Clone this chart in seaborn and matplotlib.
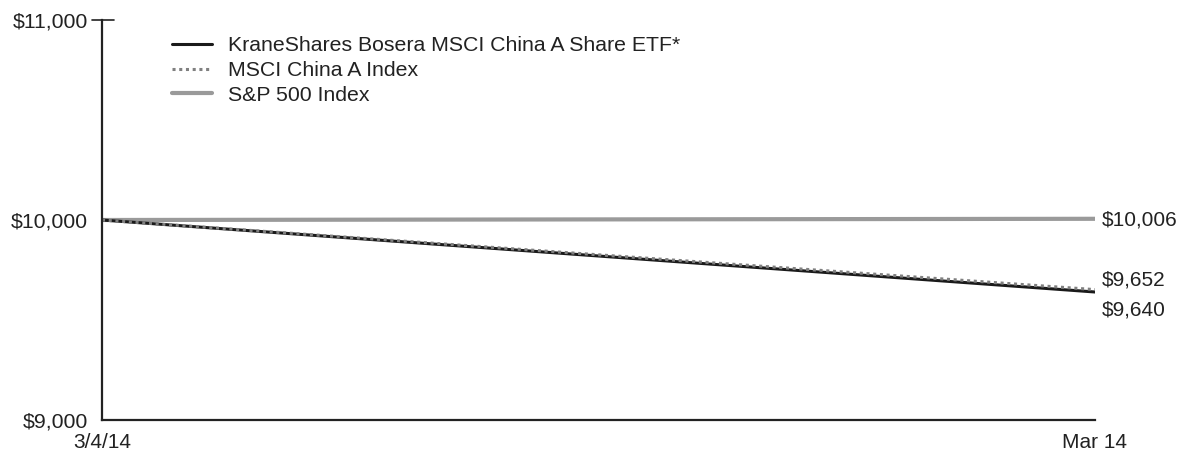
import matplotlib
matplotlib.use("Agg")
import matplotlib.pyplot as plt
from matplotlib.lines import Line2D
import seaborn as sns
import pandas as pd

sns.set_theme(style="white")
plt.rcParams['font.family'] = ['Liberation Sans', 'DejaVu Sans']

x_pos = [0, 1]
x_labels = ["3/4/14", "Mar 14"]
etf = [10000, 9640]
msci = [10000, 9652]
sp500 = [10000, 10006]
series_names = ["KraneShares Bosera MSCI China A Share ETF*", "MSCI China A Index", "S&P 500 Index"]
end_labels = ["$9,640", "$9,652", "$10,006"]
y_ticks = [9000, 10000, 11000]
y_tick_labels = ["$9,000", "$10,000", "$11,000"]

df = pd.DataFrame({
    "x": x_pos * 3,
    "value": sp500 + etf + msci,
    "series": [series_names[2]] * 2 + [series_names[0]] * 2 + [series_names[1]] * 2,
})

TXT = "#222222"
fig = plt.figure(figsize=(11.78, 4.55), dpi=100)
ax = fig.add_axes([102 / 1178, 1 - 420 / 455, (1095 - 102) / 1178, 400 / 455])

styles = {
    series_names[2]: dict(color="#9a9a9a", lw=3.0, ls="-"),
    series_names[1]: dict(color="#808080", lw=2.2, ls=(0, (1, 1.2))),
    series_names[0]: dict(color="#1a1a1a", lw=2.2, ls="-"),
}
for name in [series_names[2], series_names[0], series_names[1]]:
    sub = df[df["series"] == name]
    st = styles[name]
    sns.lineplot(data=sub, x="x", y="value", ax=ax, color=st["color"], linewidth=st["lw"],
                 linestyle=st["ls"], legend=False)

ax.set_xlim(0, 1)
ax.set_ylim(9000, 11000)
ax.set_xlabel("")
ax.set_ylabel("")
ax.set_xticks(x_pos)
ax.set_xticklabels(x_labels, fontsize=15, color=TXT)
ax.set_yticks(y_ticks)
ax.set_yticklabels(y_tick_labels, fontsize=15.3, color=TXT)

for s in ["top", "right"]:
    ax.spines[s].set_visible(False)
for s in ["left", "bottom"]:
    ax.spines[s].set_color(TXT)
    ax.spines[s].set_linewidth(1.6)

ax.tick_params(axis="y", direction="out", length=7, width=1.2, color=TXT, pad=3)
ax.tick_params(axis="x", direction="in", length=6, width=1.2, color=TXT, pad=9)
ax.xaxis.get_major_ticks()[0].tick1line.set_visible(False)
ax.yaxis.get_major_ticks()[0].tick1line.set_visible(False)
# top tick crosses the axis
ax.plot([-0.0101, 0.0121], [11000, 11000], color=TXT, lw=1.2, clip_on=False)

# end labels
ax.annotate(end_labels[2], (1, sp500[1]), xytext=(5, -1), textcoords="offset points",
            fontsize=15, va="center", ha="left", color=TXT, annotation_clip=False)
ax.annotate(end_labels[1], (1, msci[1]), xytext=(5, 7), textcoords="offset points",
            fontsize=15, va="center", ha="left", color=TXT, annotation_clip=False)
ax.annotate(end_labels[0], (1, etf[1]), xytext=(5, -13), textcoords="offset points",
            fontsize=15, va="center", ha="left", color=TXT, annotation_clip=False)

handles = [Line2D([], [], color=styles[n]["color"], lw=styles[n]["lw"], ls=styles[n]["ls"])
           for n in series_names]
leg = ax.legend(handles, series_names, loc="upper left", bbox_to_anchor=(172 / 1178, 1 - 36 / 455),
                bbox_transform=fig.transFigure, frameon=False, fontsize=15.3, handlelength=1.88,
                handletextpad=0.75, labelspacing=0.28, borderaxespad=0, borderpad=0)
for t in leg.get_texts():
    t.set_color(TXT)

fig.savefig("out.png", dpi=100)
